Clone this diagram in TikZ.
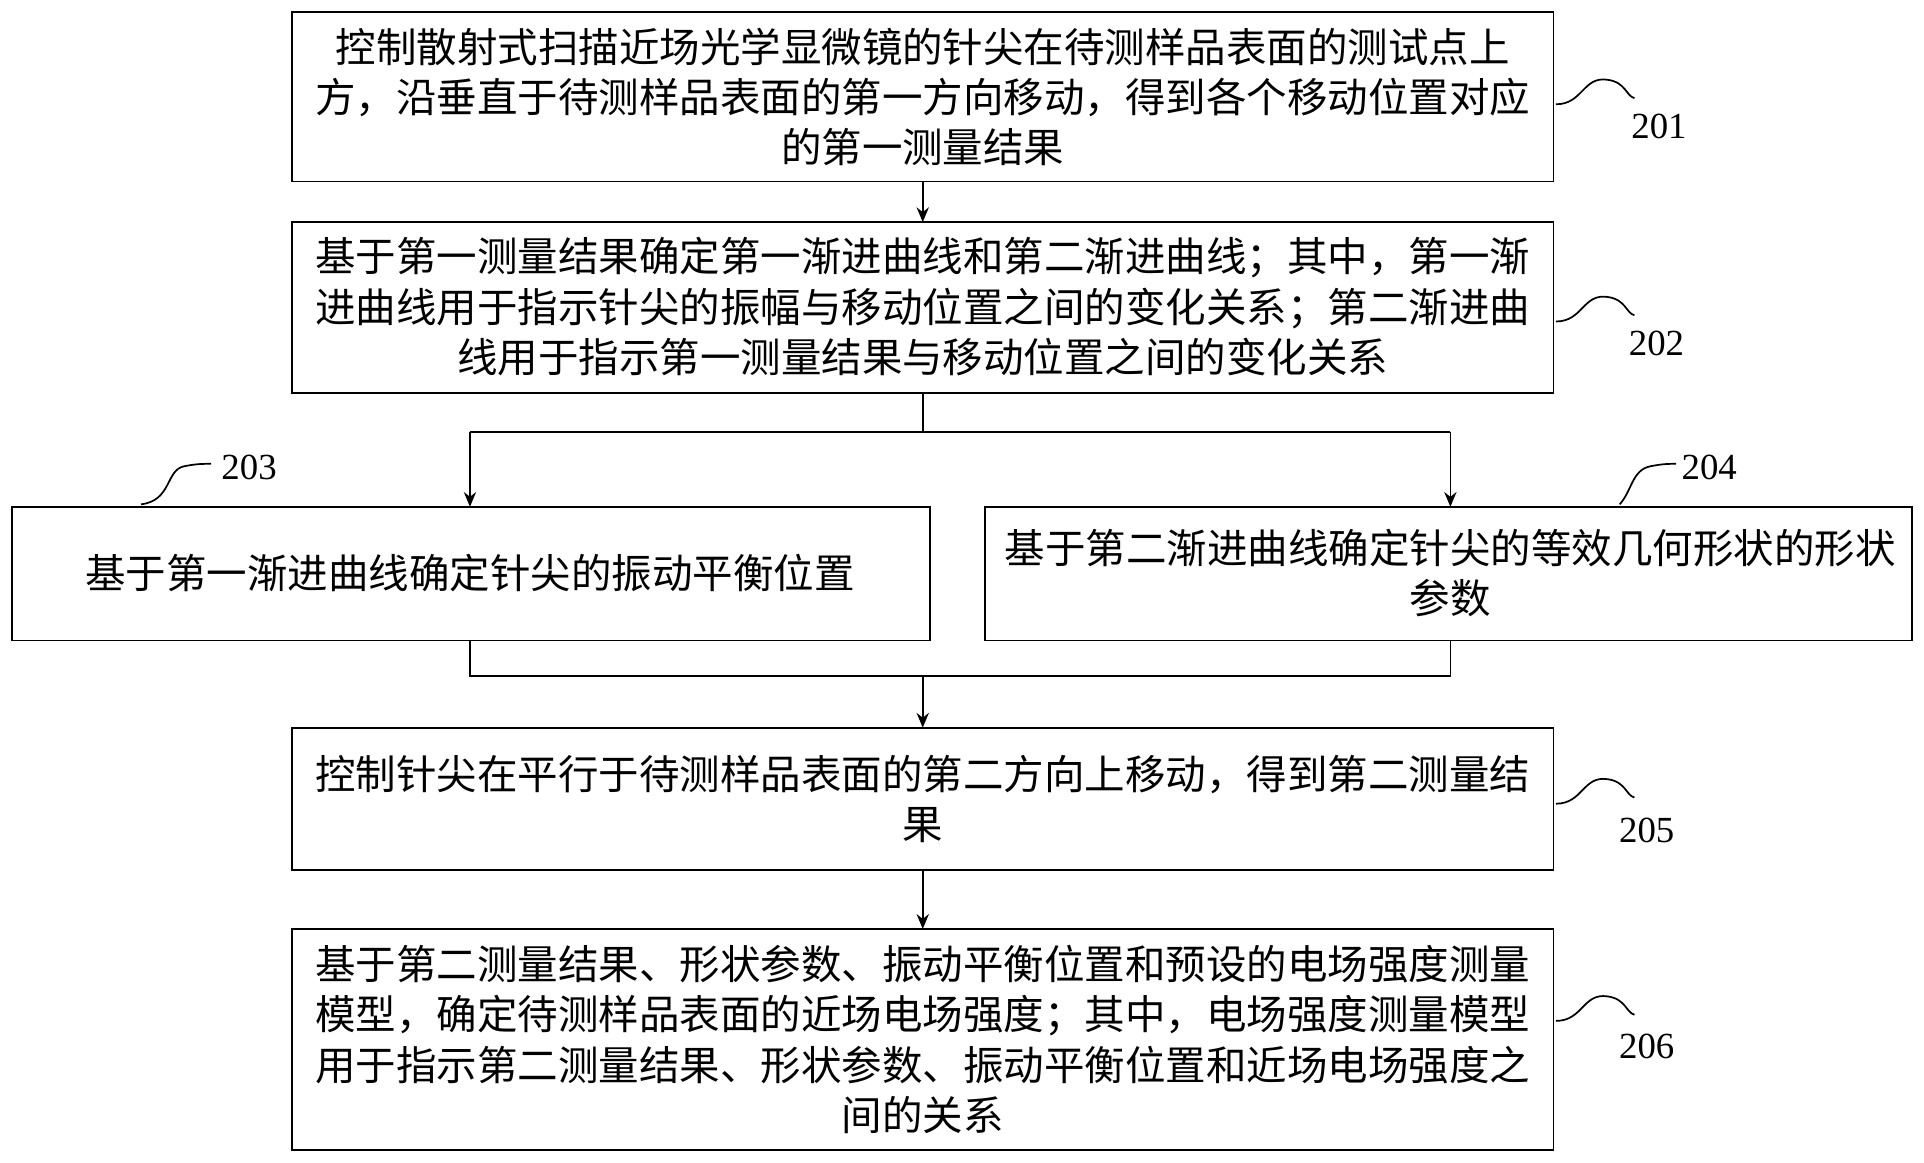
\documentclass[tikz,border=0pt]{standalone}
\usetikzlibrary{arrows.meta}
\usepackage{fontspec}
\setmainfont{Liberation Serif}
\newfontfamily\cjk{Noto Sans CJK SC}
\begin{document}
\begin{tikzpicture}[x=0.5pt,y=-0.5pt,
 box/.style={draw,line width=0.7pt,inner sep=0pt},
 txt/.style={align=center,font=\cjk\fontsize{16.5}{20.5}\selectfont},
 lab/.style={font=\fontsize{15}{18}\selectfont},
 arr/.style={line width=0.7pt,-{Stealth[length=6pt,width=5pt]}},
 ln/.style={line width=0.7pt}]
\useasboundingbox (0,0) rectangle (1568,947);
\draw[box] (238,10) rectangle (1266,148) coordinate (b1);
\node[txt] (t1) at (752,79) {控制散射式扫描近场光学显微镜的针尖在待测样品表面的测试点上\\方，沿垂直于待测样品表面的第一方向移动，得到各个移动位置对应\\的第一测量结果};
\draw[box] (238,181) rectangle (1266,320);
\node[txt] (t2) at (752,250) {基于第一测量结果确定第一渐进曲线和第二渐进曲线；其中，第一渐\\进曲线用于指示针尖的振幅与移动位置之间的变化关系；第二渐进曲\\线用于指示第一测量结果与移动位置之间的变化关系};
\draw[box] (10,413) rectangle (758,522);
\node[txt] (t3) at (383,467) {基于第一渐进曲线确定针尖的振动平衡位置};
\draw[box] (803,413) rectangle (1558,522);
\node[txt] (t4) at (1182,467) {基于第二渐进曲线确定针尖的等效几何形状的形状\\参数};
\draw[box] (238,593) rectangle (1266,709);
\node[txt] (t5) at (752,651) {控制针尖在平行于待测样品表面的第二方向上移动，得到第二测量结\\果};
\draw[box] (238,757) rectangle (1266,937);
\node[txt] (t6) at (752,847) {基于第二测量结果、形状参数、振动平衡位置和预设的电场强度测量\\模型，确定待测样品表面的近场电场强度；其中，电场强度测量模型\\用于指示第二测量结果、形状参数、振动平衡位置和近场电场强度之\\间的关系};
\coordinate (j1) at (752,352);
\coordinate (j2) at (752,551);
\draw[arr] (752,148) -- (752,181);
\draw[ln] (752,320) -- (j1);
\draw[ln] (383,352) -- (1182,352);
\draw[arr] (383,352) -- (383,413);
\draw[arr] (1182,352) -- (1182,413);
\draw[ln] (383,522) -- (383,551) -- (1182,551) -- (1182,522);
\draw[arr] (j2) -- (752,593);
\draw[arr] (752,709) -- (752,757);
\node[lab] (l1) at (1352,103) {201};
\node[lab] (l2) at (1350,280) {202};
\node[lab] (l3) at (203,381) {203};
\node[lab] (l4) at (1393,381) {204};
\node[lab] (l5) at (1342,677) {205};
\node[lab] (l6) at (1342,853) {206};
\draw[ln] (1268,85) .. controls (1290,85) and (1290,62) .. (1310,65) .. controls (1325,67) and (1325,78) .. (1332,80);
\draw[ln] (1268,262) .. controls (1290,262) and (1290,239) .. (1310,242) .. controls (1325,244) and (1325,255) .. (1332,257);
\draw[ln] (1268,655) .. controls (1290,655) and (1290,632) .. (1310,635) .. controls (1325,637) and (1325,648) .. (1332,650);
\draw[ln] (1268,832) .. controls (1290,832) and (1290,809) .. (1310,812) .. controls (1325,814) and (1325,825) .. (1332,827);
\draw[ln] (115,411) .. controls (140,408) and (135,383) .. (150,380) .. controls (160,378) and (165,378) .. (172,378);
\draw[ln] (1320,411) .. controls (1330,400) and (1330,383) .. (1345,380) .. controls (1355,378) and (1360,378) .. (1366,378);
\end{tikzpicture}
\end{document}
